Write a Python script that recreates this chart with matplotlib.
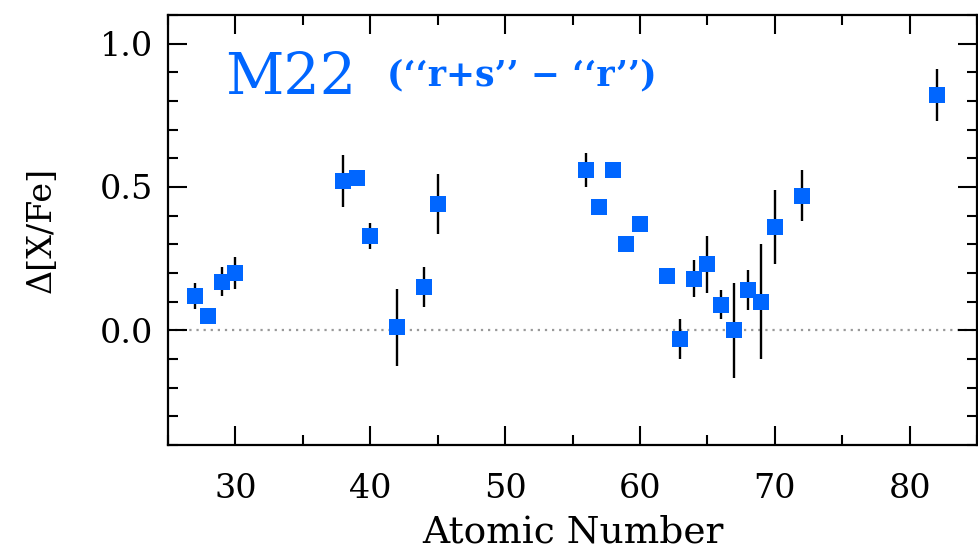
import matplotlib
matplotlib.use("Agg")
import matplotlib.pyplot as plt
import numpy as np
from matplotlib.ticker import MultipleLocator

# Abundance differences of M22 "r+s" vs "r" groups, per element
atomic_number = [27, 28, 29, 30, 38, 39, 40, 42, 44, 45, 56, 57, 58,
                 59, 60, 62, 63, 64, 65, 66, 67, 68, 69, 70, 72, 82]
delta_xfe = [0.12, 0.05, 0.17, 0.20, 0.52, 0.53, 0.33, 0.01, 0.15, 0.44,
             0.56, 0.43, 0.56, 0.30, 0.37, 0.19, -0.03, 0.18, 0.23, 0.09,
             0.00, 0.14, 0.10, 0.36, 0.47, 0.82]
delta_err = [0.045, 0.0, 0.05, 0.055, 0.09, 0.0, 0.045, 0.135, 0.07, 0.105,
             0.06, 0.0, 0.0, 0.0, 0.0, 0.0, 0.07, 0.065, 0.10, 0.05,
             0.165, 0.07, 0.20, 0.13, 0.09, 0.09]

BLUE = "#0066ff"
FONT = "DejaVu Serif"

plt.rcParams["font.family"] = [FONT, "DejaVu Sans"]

fig = plt.figure(figsize=(9.79, 5.51), dpi=100)
ax = fig.add_axes([0.1716, 0.1924, 0.8264, 0.7804])

ax.axhline(0.0, color="#999999", lw=1.6, ls=(0, (1, 2.2)), zorder=1)

ax.errorbar(atomic_number, delta_xfe, yerr=delta_err, fmt="none",
            ecolor="black", elinewidth=1.7, capsize=0, zorder=2)
ax.plot(atomic_number, delta_xfe, "s", color=BLUE, ms=12.2, mew=0,
        zorder=3)

ax.set_xlim(25, 85)
ax.set_ylim(-0.4, 1.1)
ax.xaxis.set_major_locator(MultipleLocator(10))
ax.xaxis.set_minor_locator(MultipleLocator(5))
ax.yaxis.set_major_locator(MultipleLocator(0.5))
ax.yaxis.set_minor_locator(MultipleLocator(0.1))
ax.yaxis.set_major_formatter(plt.FuncFormatter(lambda v, p: f"{v:.1f}"))

ax.tick_params(which="both", direction="in", top=True, right=True,
               width=1.5, colors="black")
ax.tick_params(which="major", length=13.5)
ax.tick_params(which="minor", length=7)
ax.tick_params(axis="x", which="major", labelsize=24, pad=20)
ax.tick_params(axis="y", which="major", labelsize=24, pad=11)
for sp in ax.spines.values():
    sp.set_linewidth(1.6)

ax.set_xlabel("Atomic Number", fontsize=27, labelpad=7)
ax.set_ylabel("Δ[X/Fe]", fontsize=24, labelpad=30)

ax.text(0.070, 0.816, "M22", transform=ax.transAxes, fontsize=41,
        color=BLUE, va="baseline", ha="left")
ax.text(0.271, 0.837, "(‘‘r+s’’ − ‘‘r’’)", transform=ax.transAxes,
        fontsize=25, fontweight="bold", color=BLUE, va="baseline",
        ha="left")

fig.savefig("out.png", dpi=100)
